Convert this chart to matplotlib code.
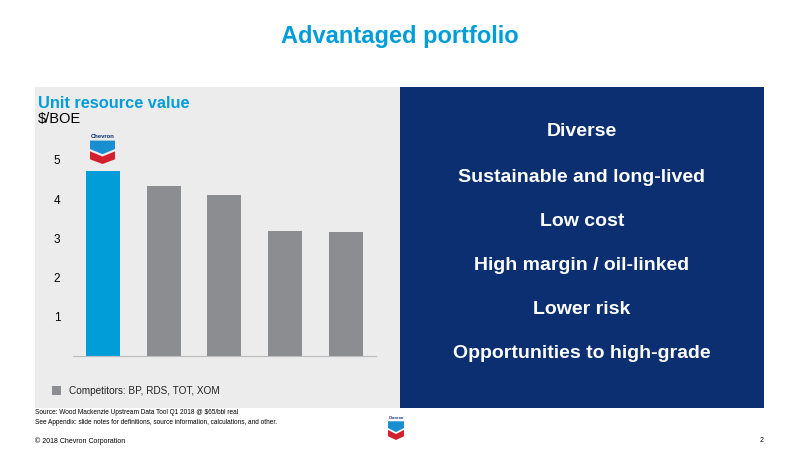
import matplotlib.pyplot as plt
from matplotlib.patches import Rectangle, Polygon

plt.rcParams['font.family'] = ['Liberation Sans', 'DejaVu Sans']

# data
companies = ['Chevron', 'Competitor A', 'Competitor B', 'Competitor C', 'Competitor D']
unit_value = [4.72, 4.34, 4.10, 3.20, 3.16]
yticks = [1, 2, 3, 4, 5]
points = ['Diverse', 'Sustainable and long-lived', 'Low cost',
          'High margin / oil-linked', 'Lower risk', 'Opportunities to high-grade']

CVX_BLUE = '#009dd9'
GREY_BAR = '#8b8d90'
PANEL_GREY = '#ececec'
NAVY = '#0c2f72'

fig = plt.figure(figsize=(8, 4.5), dpi=100)

# background canvas in pixel coords
bg = fig.add_axes([0, 0, 1, 1])
bg.set_xlim(0, 800)
bg.set_ylim(450, 0)
bg.axis('off')

bg.add_patch(Rectangle((35, 87), 365, 321, color=PANEL_GREY, lw=0))
bg.add_patch(Rectangle((400, 87), 364, 321, color=NAVY, lw=0))

bg.text(400, 37, 'Advantaged portfolio', ha='center', va='center',
        fontsize=17, fontweight='bold', color=CVX_BLUE)
bg.text(38, 103, 'Unit resource value', ha='left', va='center',
        fontsize=11.8, fontweight='bold', color=CVX_BLUE)
bg.text(38, 119, '$/BOE', ha='left', va='center', fontsize=10.5, color='black')

ys = [131, 177, 221, 265, 309, 353]
for y, s in zip(ys, points):
    bg.text(582, y, s, ha='center', va='center', fontsize=14,
            fontweight='bold', color='white')

# legend
bg.add_patch(Rectangle((52, 386), 9, 9, color=GREY_BAR, lw=0))
bg.text(69, 391, 'Competitors: BP, RDS, TOT, XOM', ha='left', va='center',
        fontsize=7.2, color='#222222')

# footer
bg.text(35, 413, 'Source: Wood Mackenzie Upstream Data Tool Q1 2018 @ $65/bbl real',
        ha='left', va='center', fontsize=4.7)
bg.text(35, 423, 'See Appendix: slide notes for definitions, source information, '
        'calculations, and other.', ha='left', va='center', fontsize=4.7)
bg.text(35, 441, '\u00a9 2018 Chevron Corporation', ha='left', va='center',
        fontsize=5)
bg.text(764, 441, '2', ha='right', va='center', fontsize=5)


def logo(ax, x0, y0, w, h):
    # small hallmark: name on top, blue and red chevrons below
    ax.text(x0 + w / 2, y0 + 0.09 * h, 'Chevron', ha='center', va='center',
            fontsize=w * 0.17, fontweight='bold', color=NAVY)
    top = y0 + 0.22 * h
    hh = h - 0.22 * h

    def p(u, v):
        return (x0 + u * w, top + v * hh)
    ax.add_patch(Polygon([p(0, 0), p(1, 0), p(1, 0.36), p(0.5, 0.58), p(0, 0.36)],
                         closed=True, color='#1a8fd0', lw=0))
    ax.add_patch(Polygon([p(0, 0.46), p(0.5, 0.68), p(1, 0.46), p(1, 0.80),
                          p(0.5, 1.0), p(0, 0.80)],
                         closed=True, color='#d2202f', lw=0))


logo(bg, 90, 134, 25, 30)
logo(bg, 388, 416, 16, 24)

# bar chart
ax = fig.add_axes([72.7 / 800, (450 - 356) / 450, (376 - 72.7) / 800, 5.5 * 39.2 / 450])
ax.set_facecolor('none')
colors = [CVX_BLUE] + [GREY_BAR] * (len(unit_value) - 1)
ax.bar(range(len(unit_value)), unit_value, width=0.56, color=colors)
ax.set_xlim(-0.5, len(unit_value) - 0.5)
ax.set_ylim(0, 5.5)
ax.set_yticks(yticks)
ax.set_xticks([])
ax.tick_params(axis='y', length=0, pad=9, labelsize=8.5)
for side in ['top', 'right', 'left']:
    ax.spines[side].set_visible(False)
ax.spines['bottom'].set_color('#bbbbbb')
ax.spines['bottom'].set_linewidth(0.8)

fig.savefig('out.png', dpi=100)
